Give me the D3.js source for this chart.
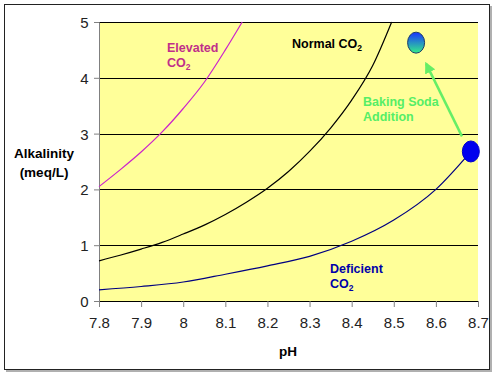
<!DOCTYPE html>
<html>
<head>
<meta charset="utf-8">
<script src="https://cdn.jsdelivr.net/npm/d3@7"></script>
<style>
  body { margin: 0; background: #fff; }
  svg { display: block; font-family: Arial, "Liberation Sans", sans-serif; }
</style>
</head>
<body>
<div id="chart"></div>
<script>
// curves (pH, alkalinity meq/L)
const elevatedPH  = [7.8, 7.85, 7.9, 7.95, 8.0, 8.05, 8.1, 8.14];
const elevatedAlk = [2.05, 2.35, 2.67, 3.03, 3.45, 3.92, 4.5, 5.0];

const normalPH  = [7.8, 7.85, 7.9, 7.95, 8.0, 8.05, 8.1, 8.15, 8.2, 8.25, 8.3, 8.35, 8.4, 8.45, 8.495];
const normalAlk = [0.72, 0.82, 0.93, 1.05, 1.2, 1.36, 1.55, 1.77, 2.02, 2.32, 2.68, 3.1, 3.6, 4.22, 5.0];

const deficientPH  = [7.8, 7.9, 8.0, 8.1, 8.2, 8.3, 8.4, 8.5, 8.6, 8.68];
const deficientAlk = [0.2, 0.26, 0.34, 0.48, 0.63, 0.8, 1.07, 1.45, 2.0, 2.65];

// the two water samples and the arrow between them
const samplePH  = [8.683, 8.553];
const sampleAlk = [2.68, 4.63];
const arrowPH  = [8.662, 8.577];
const arrowAlk = [2.95, 4.25];

const xTicks = [7.8, 7.9, 8.0, 8.1, 8.2, 8.3, 8.4, 8.5, 8.6, 8.7];
const yTicks = [0, 1, 2, 3, 4, 5];

function main() {
    const W = 500, H = 375;
    const margin = {top: 22, right: 22, bottom: 74, left: 99},
        width = 478 - margin.left,
        height = 301 - margin.top;

    const root = d3.select("#chart").append("svg")
        .attr("width", W)
        .attr("height", H);

    // frame with a little shadow
    root.append("rect")
        .attr("x", 6).attr("y", 6)
        .attr("width", 486).attr("height", 366)
        .attr("fill", "#b0b0b0");
    root.append("rect")
        .attr("x", 4.5).attr("y", 4.5)
        .attr("width", 485).attr("height", 365)
        .attr("fill", "#fff")
        .attr("stroke", "#222")
        .attr("stroke-width", 1);

    const svg = root.append("g")
        .attr("transform", `translate(${margin.left}, ${margin.top})`);

    const x = d3.scaleLinear().domain([7.8, 8.7]).range([0, width]);
    const y = d3.scaleLinear().domain([0, 5]).range([height, 0]);

    svg.append("rect")
        .attr("width", width)
        .attr("height", height)
        .attr("fill", "#ffff99");

    // grid lines
    svg.append("g")
        .selectAll("line")
        .data(yTicks.filter(d => d > 0))
        .enter()
        .append("line")
        .attr("x1", 0).attr("x2", width)
        .attr("y1", d => Math.round(y(d)) + 0.5)
        .attr("y2", d => Math.round(y(d)) + 0.5)
        .attr("stroke", "#000")
        .attr("stroke-width", 1);

    // axes
    const yAxis = svg.append("g")
        .call(d3.axisLeft(y).tickValues(yTicks).tickSize(5).tickFormat(d3.format("d")));
    yAxis.select(".domain").attr("stroke", "#808080");
    yAxis.selectAll(".tick line").attr("stroke", "#808080");
    yAxis.selectAll("text")
        .attr("font-size", 15)
        .attr("fill", "#222")
        .attr("x", -10.5)
        .attr("dy", "0.36em")
        .attr("font-family", "Arial, 'Liberation Sans', sans-serif");

    const xAxis = svg.append("g")
        .attr("transform", `translate(0, ${height})`)
        .call(d3.axisBottom(x).tickValues(xTicks).tickSize(6).tickFormat(d => d3.format("")(+d.toFixed(1))));
    xAxis.select(".domain").attr("stroke", "#000");
    xAxis.selectAll(".tick line").attr("stroke", "#808080");
    xAxis.selectAll("text")
        .attr("font-size", 15)
        .attr("fill", "#222")
        .attr("y", 16)
        .attr("font-family", "Arial, 'Liberation Sans', sans-serif");

    // curves
    const line = d3.line()
        .x(d => x(d[0]))
        .y(d => y(d[1]))
        .curve(d3.curveMonotoneX);

    const curves = [
        {ph: elevatedPH, alk: elevatedAlk, color: "#cc22cc"},
        {ph: normalPH, alk: normalAlk, color: "#000000"},
        {ph: deficientPH, alk: deficientAlk, color: "#000080"}
    ];
    svg.append("g")
        .selectAll("path")
        .data(curves)
        .enter()
        .append("path")
        .attr("d", c => line(c.ph.map((p, i) => [p, c.alk[i]])))
        .attr("fill", "none")
        .attr("stroke", c => c.color)
        .attr("stroke-width", 1.2);

    // arrow
    const defs = root.append("defs");
    defs.append("marker")
        .attr("id", "head")
        .attr("viewBox", "0 0 10 10")
        .attr("refX", 8).attr("refY", 5)
        .attr("markerWidth", 4.5).attr("markerHeight", 4.5)
        .attr("orient", "auto")
        .append("path")
        .attr("d", "M0,0 L10,5 L0,10 z")
        .attr("fill", "#66ee66");
    const grad = defs.append("linearGradient")
        .attr("id", "dotgrad")
        .attr("x1", 0).attr("y1", 0).attr("x2", 0).attr("y2", 1);
    grad.append("stop").attr("offset", "0%").attr("stop-color", "#1a33ff");
    grad.append("stop").attr("offset", "100%").attr("stop-color", "#33ee88");

    svg.append("line")
        .attr("x1", x(arrowPH[0])).attr("y1", y(arrowAlk[0]))
        .attr("x2", x(arrowPH[1])).attr("y2", y(arrowAlk[1]))
        .attr("stroke", "#66ee66")
        .attr("stroke-width", 2.5)
        .attr("marker-end", "url(#head)");

    // sample dots
    svg.append("g")
        .selectAll("ellipse")
        .data(samplePH)
        .enter()
        .append("ellipse")
        .attr("cx", d => x(d))
        .attr("cy", (d, i) => y(sampleAlk[i]))
        .attr("rx", 8.5)
        .attr("ry", 10.5)
        .attr("fill", (d, i) => i === 0 ? "#0000ee" : "url(#dotgrad)")
        .attr("stroke", (d, i) => i === 0 ? "#0000cc" : "#1a3a6a")
        .attr("stroke-width", 1);

    // annotations
    const note = (lines, px, py, color, sub) => {
        lines.forEach((t, i) => {
            const txt = root.append("text")
                .attr("x", px)
                .attr("y", py + i * 15)
                .attr("fill", color)
                .attr("font-size", 12.5)
                .attr("font-weight", "bold");
            if (sub && i === lines.length - 1 || sub === "inline") {
                txt.append("tspan").text(t);
                txt.append("tspan").attr("font-size", 8.5).attr("dy", 3).text("2");
            } else {
                txt.text(t);
            }
        });
    };
    note(["Elevated", "CO"], 167, 52, "#c0308a", true);
    note(["Normal CO"], 292, 48, "#000", "inline");
    note(["Baking Soda", "Addition"], 363, 106, "#55ee66", false);
    note(["Deficient", "CO"], 330, 273, "#0000aa", true);

    // axis titles
    root.append("text")
        .attr("x", 44).attr("y", 158)
        .attr("text-anchor", "middle")
        .attr("font-size", 13.5)
        .attr("font-weight", "bold")
        .text("Alkalinity");
    root.append("text")
        .attr("x", 44).attr("y", 177)
        .attr("text-anchor", "middle")
        .attr("font-size", 13.5)
        .attr("font-weight", "bold")
        .text("(meq/L)");
    root.append("text")
        .attr("x", 288).attr("y", 356)
        .attr("text-anchor", "middle")
        .attr("font-size", 13.5)
        .attr("font-weight", "bold")
        .text("pH");
}

main()
</script>
</body>
</html>
